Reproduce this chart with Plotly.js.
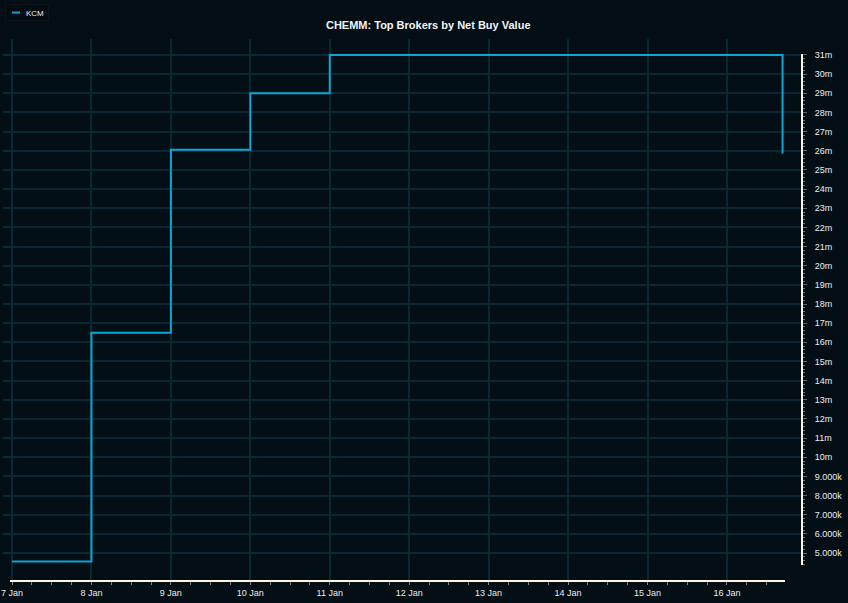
<!DOCTYPE html>
<html>
<head>
<meta charset="utf-8">
<script src="https://cdn.plot.ly/plotly-3.0.1.min.js"></script>
<style>
  html, body { margin: 0; padding: 0; background: #030f15; }
  #chart { width: 848px; height: 603px; }
</style>
</head>
<body>
<div id="chart"></div>
<script>
// ---- data ----
const seriesName = 'KCM';
const dates = ['2025-01-07', '2025-01-08', '2025-01-09', '2025-01-10', '2025-01-11',
               '2025-01-12', '2025-01-13', '2025-01-14', '2025-01-15', '2025-01-16',
               '2025-01-16 16:48'];
const netBuy = [4.55e6, 16.5e6, 26.05e6, 29.0e6, 31.0e6,
                31.0e6, 31.0e6, 31.0e6, 31.0e6, 31.0e6,
                25.86e6];
const yTickVals = [5e6, 6e6, 7e6, 8e6, 9e6, 10e6, 11e6, 12e6, 13e6, 14e6, 15e6, 16e6, 17e6, 18e6,
                   19e6, 20e6, 21e6, 22e6, 23e6, 24e6, 25e6, 26e6, 27e6, 28e6, 29e6, 30e6, 31e6];
const yTickText = ['5.000k', '6.000k', '7.000k', '8.000k', '9.000k', '10m', '11m', '12m', '13m', '14m',
                   '15m', '16m', '17m', '18m', '19m', '20m', '21m', '22m', '23m', '24m', '25m',
                   '26m', '27m', '28m', '29m', '30m', '31m'];
const chartTitle = 'CHEMM: Top Brokers by Net Buy Value';

// ---- layout helpers ----
const DAY = 24 * 3600 * 1000;
const t0 = new Date(dates[0] + 'T00:00:00Z').getTime();
const toStr = ms => new Date(ms).toISOString().replace('T', ' ').replace('Z', '');
const xRange = [toStr(t0 - 0.1133 * DAY), toStr(t0 + 9.945 * DAY)];

// minor tick positions (styling only): every 6 h on x, every 0.2m on y
const xMinor = [];
for (let k = 0; k <= 38; k++) xMinor.push(toStr(t0 + k * DAY / 4));
const yMinor = [];
for (let k = 0; k <= 133; k++) yMinor.push(4.4e6 + k * 0.2e6);

const bg = '#030f15';
const grid = '#082834';
const axisCol = '#fff6e6';
const textCol = '#e9edf0';

const trace = {
  type: 'scatter',
  mode: 'lines',
  name: seriesName,
  x: dates,
  y: netBuy,
  line: { shape: 'hv', color: '#0aa6d6', width: 2 },
  hoverinfo: 'x+y'
};

const layout = {
  width: 848,
  height: 603,
  autosize: false,
  paper_bgcolor: bg,
  plot_bgcolor: bg,
  margin: { l: 3, r: 46, t: 39, b: 22, pad: 0, autoexpand: false },
  font: { family: 'Liberation Sans, Arial, sans-serif', color: textCol, size: 9 },
  title: {
    text: '<b>' + chartTitle + '</b>',
    font: { family: 'Liberation Sans, Arial, sans-serif', size: 11, color: '#f2f4f5' },
    x: 0.505, xanchor: 'center',
    y: 0.958, yanchor: 'middle'
  },
  showlegend: true,
  legend: {
    x: 0.0025, xanchor: 'left',
    y: 1.0645, yanchor: 'top',
    bgcolor: '#040c11',
    bordercolor: '#0b161c',
    borderwidth: 1,
    font: { size: 8, color: textCol },
    itemwidth: 30,
    tracegroupgap: 0
  },
  xaxis: {
    type: 'date',
    range: xRange,
    showgrid: true,
    gridcolor: grid,
    gridwidth: 2,
    zeroline: false,
    showline: false,
    dtick: DAY,
    tick0: dates[0],
    tickformat: '%-d %b',
    ticks: 'outside',
    ticklen: 3,
    tickwidth: 1,
    tickcolor: '#8f7f86',
    tickfont: { size: 9, color: textCol },
    minor: { tickmode: 'array', tickvals: xMinor, ticks: 'outside', ticklen: 3, tickwidth: 1, tickcolor: '#8f7f86', showgrid: false },
    fixedrange: true
  },
  yaxis: {
    side: 'right',
    range: [3.538e6, 31.835e6],
    tickmode: 'array',
    tickvals: yTickVals,
    ticktext: yTickText,
    showgrid: true,
    gridcolor: grid,
    gridwidth: 2,
    zeroline: false,
    showline: false,
    ticks: 'outside',
    ticklen: 4,
    tickwidth: 1,
    tickcolor: '#5c666d',
    ticklabelstandoff: 6,
    tickfont: { size: 9, color: textCol },
    minor: { tickmode: 'array', tickvals: yMinor, ticks: 'outside', ticklen: 2, tickwidth: 1, tickcolor: '#6b7378', showgrid: false },
    fixedrange: true
  },
  shapes: [
    { type: 'line', xref: 'paper', yref: 'paper', x0: 0.0088, x1: 0.9787, y0: 0, y1: 0,
      line: { color: axisCol, width: 2 }, layer: 'above' },
    { type: 'line', xref: 'paper', yref: 'paper', x0: 1, x1: 1, y0: 0.0295, y1: 0.9723,
      line: { color: axisCol, width: 2 }, layer: 'above' }
  ]
};

Plotly.newPlot('chart', [trace], layout, { displayModeBar: false, staticPlot: true }).then(function () {
  // compact legend: short swatch line and low box like the reference
  try {
    const leg = document.querySelector('.legend');
    const p = leg.querySelector('.legendlines path');
    if (p) p.setAttribute('d', 'M6,0h8');
    const t = leg.querySelector('.legendtext');
    if (t) t.setAttribute('x', 20);
    const r = leg.querySelector('rect.bg');
    if (r) { r.setAttribute('width', 43); r.setAttribute('height', 16); }
    const tr = leg.querySelector('.traces');
    if (tr) tr.setAttribute('transform', 'translate(1,8.5)');
    const clip = document.querySelector('clipPath[id^="legend"] rect');
    if (clip) { clip.setAttribute('width', 43); clip.setAttribute('height', 16); }
  } catch (e) {}
});
</script>
</body>
</html>
